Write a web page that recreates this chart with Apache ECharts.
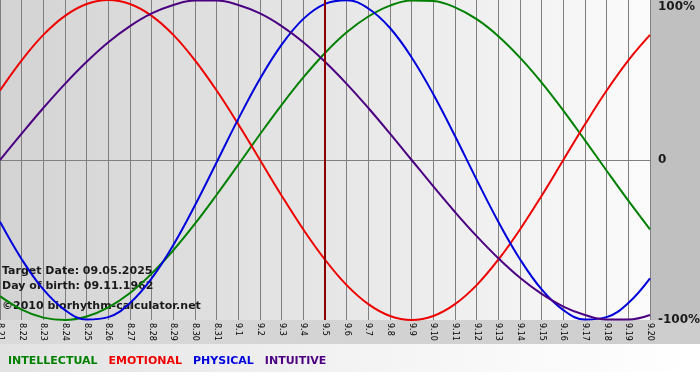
<!DOCTYPE html>
<html>
<head>
<meta charset="utf-8">
<script src="https://cdn.jsdelivr.net/npm/echarts@6/dist/echarts.min.js"></script>
<style>
html,body{margin:0;padding:0;background:#fff;}
#chart{width:700px;height:380px;}
</style>
</head>
<body>
<div id="chart"></div>
<script>
const days = ['8.21','8.22','8.23','8.24','8.25','8.26','8.27','8.28','8.29','8.30','8.31',
  '9.1','9.2','9.3','9.4','9.5','9.6','9.7','9.8','9.9','9.10','9.11','9.12','9.13','9.14','9.15','9.16','9.17','9.18','9.19','9.20'];
const intellectual = [-85.1,-93.5,-98.5,-100,-97.8,-92.1,-83.1,-71.0,-56.4,-39.8,-21.7,-2.9,16.1,34.5,51.6,66.9,79.8,89.7,96.5,99.7,99.3,95.4,88.0,77.4,64.0,48.4,30.9,12.3,-6.7,-25.4,-43.3];
const emotional = [43.4,62.3,78.2,90.1,97.5,100,97.5,90.1,78.2,62.3,43.4,22.3,0,-22.3,-43.4,-62.3,-78.2,-90.1,-97.5,-100,-97.5,-90.1,-78.2,-62.3,-43.4,-22.3,0,22.3,43.4,62.3,78.2];
const physical = [-38.6,-62.0,-80.9,-93.8,-99.7,-98.2,-89.4,-74.0,-53.1,-28.3,-1.4,25.7,50.8,72.1,88.2,97.6,99.9,94.7,82.5,64.1,41.1,15.0,-12.3,-38.6,-62.0,-80.9,-93.8,-99.7,-98.2,-89.4,-74.0];
const intuitive = [0,16.5,32.5,47.6,61.4,73.6,83.7,91.6,96.9,99.7,99.7,96.9,91.6,83.7,73.6,61.4,47.6,32.5,16.5,0,-16.5,-32.5,-47.6,-61.4,-73.6,-83.7,-91.6,-96.9,-99.7,-99.7,-96.9];
const targetDay = '9.5';
const infoLines = ['Target Date: 09.05.2025', 'Day of birth: 09.11.1962', '\u00a92010 biorhythm-calculator.net'];
const seriesNames = ['INTELLECTUAL','EMOTIONAL','PHYSICAL','INTUITIVE'];
const seriesColors = ['#008000','#ee0000','#0000dd','#4b0082'];
const seriesData = [intellectual, emotional, physical, intuitive];

const chart = echarts.init(document.getElementById('chart'), null, {renderer:'canvas'});
const font = 'DejaVu Sans, Verdana, sans-serif';

const option = {
  backgroundColor: '#ffffff',
  animation: false,
  textStyle: {fontFamily: font},
  grid: {left: 0, right: 50, top: 0, bottom: 60, show: true, borderWidth: 0,
    containLabel: false, outerBoundsMode: 'none',
    backgroundColor: new echarts.graphic.LinearGradient(0,0,1,0,[
      {offset:0,color:'#d3d3d3'},{offset:0.5,color:'#e6e6e6'},{offset:1,color:'#fbfbfb'}])},
  legend: {
    left: 3, top: 356, icon: 'none', itemWidth: 0, itemHeight: 0, itemGap: 6, padding: 0,
    selectedMode: false,
    textStyle: {fontFamily: font, fontWeight: 'bold', fontSize: 11},
    data: seriesNames.map((n,i)=>({name:n, textStyle:{color:seriesColors[i]}}))
  },
  graphic: [
    {type:'rect', z:-10, silent:true, shape:{x:650,y:0,width:50,height:322}, style:{fill:'#c0c0c0'}},
    {type:'rect', z:-10, silent:true, shape:{x:0,y:320,width:700,height:24},
      style:{fill:new echarts.graphic.LinearGradient(0,0,1,0,[{offset:0,color:'#dadada'},{offset:1,color:'#cdcdcd'}])}},
    {type:'rect', z:-10, silent:true, shape:{x:0,y:344,width:700,height:28},
      style:{fill:new echarts.graphic.LinearGradient(0,0,1,0,[{offset:0,color:'#e2e2e2'},{offset:0.6,color:'#f6f6f6'},{offset:1,color:'#ffffff'}])}},
    ...infoLines.map((t,i)=>({type:'text', z:1, silent:true, left:2, top:[266,281,301][i],
      style:{text:t, font:'bold 11px ' + font, fill:'#1a1a1a'}}))
  ],
  xAxis: {
    type: 'category', data: days, boundaryGap: false,
    axisLine: {show: true, lineStyle: {color: '#808080'}},
    axisTick: {show: false},
    splitLine: {show: true, interval: 0, lineStyle: {color: '#7f7f7f', width: 1}},
    axisLabel: {interval: 0, rotate: -90, fontSize: 8, margin: 3, color: '#000', fontFamily: font}
  },
  yAxis: {
    type: 'value', position: 'right', min: -100, max: 100, interval: 100,
    axisLine: {show: false}, axisTick: {show: false},
    splitLine: {show: true, lineStyle: {color: ['transparent','#808080','transparent']}},
    axisLabel: {
      margin: 8, color: '#1a1a1a', fontWeight: 'bold', fontSize: 12, fontFamily: font,
      formatter: v => v === 100 ? '{t|100%}' : (v === 0 ? '0' : '-100%'),
      rich: {t: {fontWeight:'bold', fontSize:12, fontFamily: font, color:'#1a1a1a', padding:[14,0,0,0]}}
    }
  },
  series: seriesNames.map((n,i)=>({
    name: n, type: 'line', data: seriesData[i], smooth: 0.4, symbol: 'none',
    lineStyle: {color: seriesColors[i], width: 2}, itemStyle: {color: seriesColors[i]},
    markLine: i === 0 ? {silent:true, symbol:'none', label:{show:false},
      lineStyle:{color:'#8b0000', width:2, type:'solid'}, data:[{xAxis: targetDay}]} : undefined
  }))
};
chart.setOption(option);
</script>
</body>
</html>
